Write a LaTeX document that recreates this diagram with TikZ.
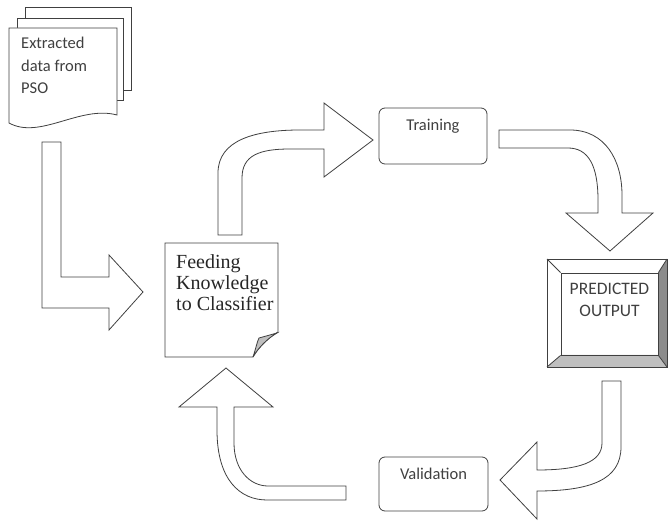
\documentclass[tikz,border=0pt]{standalone}
\usepackage{fontspec}
\setmainfont{Liberation Serif}
\newfontfamily\calibri{Carlito}
\usetikzlibrary{positioning}
\tikzset{
  outline/.style={draw=black!75,line width=0.8pt},
  block/.style={outline,fill=white,line join=miter},
  roundbox/.style={outline,rounded corners=6pt,minimum width=108pt,minimum height=56pt,inner sep=0pt},
  sanstext/.style={font=\calibri\fontsize{16.5}{22.5}\selectfont,text=black!75,align=left,inner sep=0pt},
}

\begin{document}
\begin{tikzpicture}[x=1pt,y=-1pt]
\useasboundingbox (0,0) rectangle (670,521);
% stacked pages
\foreach \x/\y/\r/\b in {25/7/131/90,17/18/123/100}
	\draw[block] (\x,\y) rectangle (\r,\b);
\draw[block] (9,28) -- (117,28) -- (117,115) .. controls (80,105) and (40,140) .. (9,123) -- cycle;
\node[sanstext,anchor=north west] (pso) at (21,37) {Extracted\\data from\\PSO};
% L arrow
\draw[block] (42,142) -- (61,142) -- (61,277) -- (109,277) -- (109,255) -- (143,292) -- (109,330) -- (109,308) -- (42,308) -- cycle;
% feeding note
\draw[block] (165,243) -- (278,243) -- (278,332) .. controls (268,338) and (258,348) .. (253,357) -- (165,357) -- cycle;
\draw[outline,fill=black!25] (253,357) .. controls (256,348) and (257,342) .. (259,338) -- (277,333) .. controls (268,338) and (258,348) .. (253,357);
\node[font=\fontsize{20}{21}\selectfont,text=black!85,align=left,inner sep=0pt,anchor=west] (feed) at (176,283) {Feeding\\Knowledge\\to Classifier};
% up-right arrow
\draw[block] (218,235) -- (218,173) .. controls (218,140) and (255,130) .. (300,130) -- (324,130) -- (324,103) -- (373,140) -- (324,177) -- (324,149) -- (290,149) .. controls (260,149) and (242,155) .. (242,178) -- (242,235) -- cycle;
% training
\node[roundbox] (train) at (433,136) {};
\node[sanstext,below=11pt of train.north] {Training};
% right-down arrow
\draw[block] (499,130) -- (570,130) .. controls (605,130) and (622,160) .. (622,195) -- (622,213) -- (653,213) -- (610,251) -- (566,213) -- (598,213) -- (598,200) .. controls (598,165) and (588,148) .. (568,148) -- (499,148) -- cycle;
% predicted output
\fill[black!45] (667,259) -- (667,367) -- (658,355) -- (658,273) -- cycle;
\fill[black!25] (547,367) -- (667,367) -- (658,355) -- (561,355) -- cycle;
\draw[outline] (547,259) rectangle (667,367);
\node[outline,minimum width=97pt,minimum height=82pt,inner sep=0pt] (pred) at (609.5,314) {};
\foreach \a/\b in {north west/547,north east/667}
	\draw[outline] (pred.\a) -- (\b,259);
\foreach \a/\b in {south west/547,south east/667}
	\draw[outline] (pred.\a) -- (\b,367);
\node[sanstext,align=center,font=\calibri\fontsize{17.5}{22}\selectfont] at ([yshift=14pt]pred) {PREDICTED\\OUTPUT};
% down-left arrow
\draw[block] (602,381) -- (621,381) -- (621,447) .. controls (621,480) and (590,491) .. (537,491) -- (537,519) -- (500,480) -- (537,442) -- (537,470) .. controls (580,470) and (602,462) .. (602,443) -- cycle;
% validation
\node[roundbox,minimum width=109pt,minimum height=54pt] (valid) at (433.5,484) {};
\node[sanstext,below=11pt of valid.north] {Validation};
% up arrow
\draw[block] (346,486) -- (346,500) -- (267,500) .. controls (240,500) and (217,480) .. (217,430) -- (217,407) -- (179,407) -- (226,368) -- (273,407) -- (234,407) -- (234,443) .. controls (234,470) and (250,486) .. (268,486) -- cycle;
\end{tikzpicture}
\end{document}
